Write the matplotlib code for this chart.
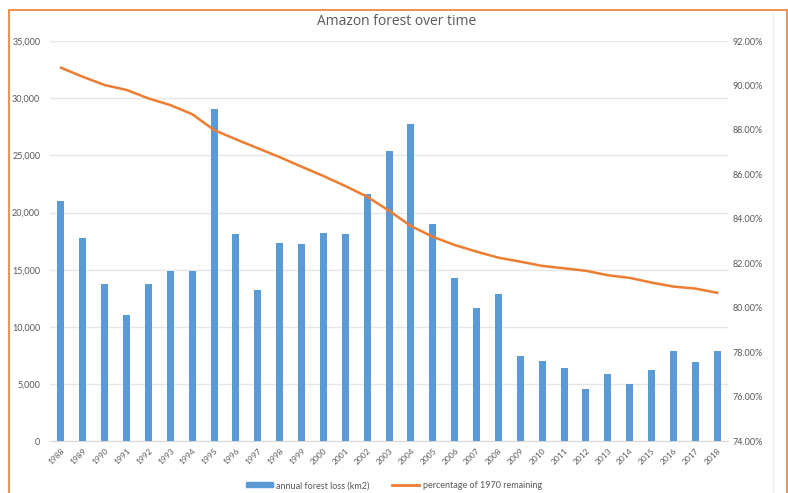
import matplotlib.pyplot as plt
from matplotlib.patches import Rectangle
from matplotlib.lines import Line2D
from matplotlib.ticker import FuncFormatter

plt.rcParams['font.family'] = ['Lato', 'DejaVu Sans']

# dados PRODES: desmatamento anual e percentual restante
years = list(range(1988, 2019))
forest_loss = [21050, 17770, 13730, 11030, 13786, 14896, 14896, 29059, 18161, 13227,
               17383, 17259, 18226, 18165, 21651, 25396, 27772, 19014, 14286, 11651,
               12911, 7464, 7000, 6418, 4571, 5891, 5012, 6207, 7893, 6947, 7900]
pct_remaining = [90.80, 90.39, 90.02, 89.80, 89.42, 89.12, 88.71, 88.00, 87.58, 87.18,
                 86.78, 86.35, 85.93, 85.48, 85.00, 84.37, 83.68, 83.20, 82.83, 82.53,
                 82.26, 82.08, 81.89, 81.78, 81.67, 81.47, 81.35, 81.14, 80.96, 80.87,
                 80.68]

blue = '#5B9BD5'
orange = '#ED7D31'
txt = '#595959'

fig = plt.figure(figsize=(7.88, 4.93), dpi=100)
ax = fig.add_axes([0.0635, 0.1047, 0.8605, 0.8121])
ax2 = ax.twinx()

x = list(range(len(years)))
ax.bar(x, forest_loss, width=0.32, color=blue, zorder=3)
ax2.plot(x, pct_remaining, color=orange, linewidth=1.8, zorder=4)

ax.set_xlim(-0.5, len(years) - 0.5)
ax.set_ylim(0, 35000)
ax.set_yticks(range(0, 35001, 5000))
ax.yaxis.set_major_formatter(FuncFormatter(lambda v, p: f'{int(v):,}'))
ax.grid(axis='y', color='#E6E6E6', linewidth=1, zorder=0)
ax.set_axisbelow(True)

ax2.set_ylim(74, 92)
ax2.set_yticks(range(74, 93, 2))
ax2.yaxis.set_major_formatter(FuncFormatter(lambda v, p: f'{v:.2f}%'))

ax.set_xticks(x)
ax.set_xticklabels([str(y) for y in years], rotation=45, ha='right',
                   rotation_mode='anchor')

for a in (ax, ax2):
    for s in a.spines.values():
        s.set_visible(False)
    a.tick_params(length=0, labelsize=6.5, colors=txt)
ax.spines['bottom'].set_visible(True)
ax.spines['bottom'].set_color('#D9D9D9')
ax.tick_params(axis='y', pad=7)
ax2.tick_params(axis='y', pad=3)
ax.tick_params(axis='x', pad=4, labelsize=6)

fig.text(0.503, 0.957, 'Amazon forest over time', ha='center', va='center',
         fontsize=10, color=txt, family=['Open Sans', 'DejaVu Sans'])

handles = [Rectangle((0, 0), 1, 1, color=blue),
           Line2D([0], [0], color=orange, linewidth=2)]
fig.legend(handles, ['annual forest loss (km2)', 'percentage of 1970 remaining'],
           loc='center', bbox_to_anchor=(0.5, 0.015), ncol=2, frameon=False,
           fontsize=6.5, labelcolor=txt, handlelength=3, handleheight=0.5,
           columnspacing=2.5, handletextpad=0.4)

# moldura laranja do gráfico
fig.add_artist(Rectangle((9 / 788, -0.05), 778 / 788, 1.05 - 10 / 493,
                         transform=fig.transFigure, fill=False,
                         edgecolor=orange, linewidth=1.2))
fig.add_artist(Line2D([773 / 788, 773 / 788], [0, 1 - 12 / 493],
                      transform=fig.transFigure, color='#EEEEEE', linewidth=1))

fig.savefig('out.png', dpi=100)
